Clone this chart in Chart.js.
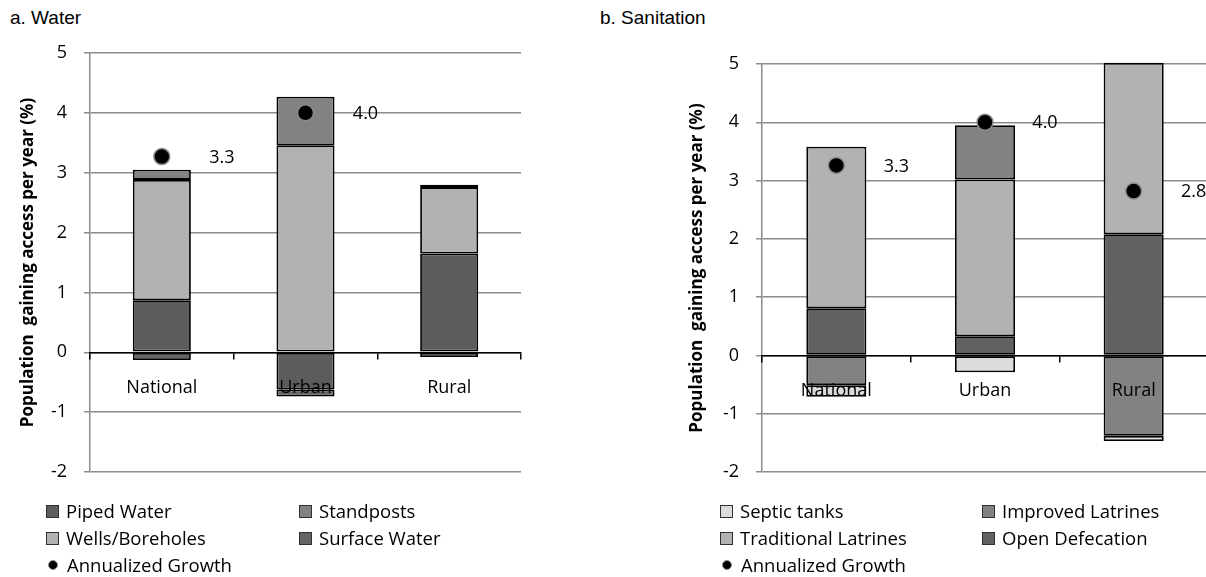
<!DOCTYPE html>
<html>
<head>
<meta charset="utf-8">
<script src="https://cdn.jsdelivr.net/npm/chart.js@4/dist/chart.umd.min.js"></script>
<style>
  html, body { margin: 0; padding: 0; background: #fff; overflow: hidden; }
  body { width: 1206px; height: 577px; position: relative; font-family: "Open Sans", sans-serif; }
  canvas { position: absolute; top: 0; }
  .panel-title { position: absolute; top: 8px; font-family: "Liberation Sans", Arial, sans-serif; font-size: 19px; line-height: 19px; color: #000; }
  .legend-item { position: absolute; height: 24px; line-height: 24px; display: flex; align-items: center; white-space: nowrap; font-size: 18.5px; color: #000; }
  .swatch { width: 11px; height: 11px; border: 1px solid #303030; }
  .dot { width: 8px; height: 8px; border-radius: 50%; background: #000; border: 1px solid #8c8c8c; margin-left: 2px; margin-right: 9px !important; }
</style>
</head>
<body>
<div class="panel-title" style="left:10px">a. Water</div>
<div class="panel-title" style="left:600px">b. Sanitation</div>
<canvas id="water" width="600" height="500" style="left:0"></canvas>
<canvas id="sanitation" width="620" height="500" style="left:600px"></canvas>
<div id="legends"></div>
<script>
// categories and y ticks
const categories = ['National', 'Urban', 'Rural'];
const yTicks = [-2, -1, 0, 1, 2, 3, 4, 5];

// a. Water (% of population gaining access per year)
const pipedWater = [0.87, -0.62, 1.65];
const wellsBoreholes = [2.01, 3.46, 1.11];
const standposts = [0.17, 0.81, -0.08];
const surfaceWater = [-0.13, -0.12, 0.04];
const waterGrowth = [3.27, 4.0, null];
const waterGrowthLabels = ['3.3', '4.0', ''];

// b. Sanitation
const openDefecation = [0.81, 0.33, 2.08];
const traditionalLatrines = [2.77, 2.69, 2.94];
const improvedLatrines = [-0.51, 0.93, -1.38];
const septicTanks = [-0.2, -0.29, -0.09];
const sanitationGrowth = [3.26, 4.0, 2.82];
const sanitationGrowthLabels = ['3.3', '4.0', '2.8'];

const FONT = '"Open Sans", sans-serif';
const GRID = '#8c8c8c';

const growthLabelPlugin = {
    id: 'growthLabels',
    afterDatasetsDraw(chart) {
        const ds = chart.data.datasets[0];
        const meta = chart.getDatasetMeta(0);
        const ctx = chart.ctx;
        ctx.save();
        ctx.font = '18px ' + FONT;
        ctx.fillStyle = '#000';
        ctx.textAlign = 'center';
        ctx.textBaseline = 'middle';
        meta.data.forEach((pt, i) => {
            if (ds.data[i] === null) return;
            ctx.fillText(ds.labels[i], pt.x + 60, pt.y + 1);
        });
        ctx.restore();
    }
};

function bar(label, data, color) {
    return {
        type: 'bar',
        label: label,
        data: data,
        backgroundColor: color,
        borderColor: '#000',
        borderWidth: 1.8,
        borderSkipped: false,
        barPercentage: 0.404,
        categoryPercentage: 1,
        clip: false
    };
}

function createChart(canvas, bars, growth, growthLabels, layout) {
    const datasets = [{
        type: 'line',
        label: 'Annualized Growth',
        data: growth,
        labels: growthLabels,
        showLine: false,
        pointRadius: 8,
        pointHoverRadius: 8,
        pointBackgroundColor: '#000',
        pointBorderColor: GRID,
        pointBorderWidth: 1.5
    }].concat(bars);

    return new Chart(canvas, {
        data: { labels: categories, datasets: datasets },
        options: {
            responsive: false,
            animation: false,
            devicePixelRatio: 1,
            layout: { padding: layout.padding },
            plugins: { legend: { display: false }, tooltip: { enabled: false } },
            scales: {
                x: {
                    type: 'category',
                    position: { y: 0 },
                    stacked: true,
                    offset: true,
                    grid: { offset: true, drawOnChartArea: false, drawTicks: true, tickLength: 6, color: '#000', lineWidth: 1.5, z: 1 },
                    border: { color: '#000', width: 1.5, z: 1 },
                    ticks: { padding: 19, color: '#000', font: { family: FONT, size: 18 }, maxRotation: 0, autoSkip: false, z: 1 }
                },
                y: {
                    stacked: true,
                    min: -2,
                    max: 5,
                    afterBuildTicks: s => { s.ticks = yTicks.map(v => ({ value: v })); },
                    afterFit: s => { s.width = layout.axisWidth; },
                    grid: { color: GRID, lineWidth: 1.5, tickLength: 6 },
                    border: { color: GRID, width: 1.5 },
                    ticks: { padding: 17, color: '#000', font: { family: FONT, size: 18 } },
                    title: {
                        display: true,
                        text: 'Population  gaining access per year (%)',
                        color: '#000',
                        font: { family: FONT, size: 17, weight: 'bold' },
                        padding: { top: layout.titleOffset, bottom: 0 }
                    }
                }
            }
        },
        plugins: [growthLabelPlugin]
    });
}

const waterBars = [
    bar('Piped Water', pipedWater, '#5c5c5c'),
    bar('Wells/Boreholes', wellsBoreholes, '#b2b2b2'),
    bar('Standposts', standposts, '#828282'),
    bar('Surface Water', surfaceWater, '#646464')
];
const sanitationBars = [
    bar('Open Defecation', openDefecation, '#616161'),
    bar('Traditional Latrines', traditionalLatrines, '#b2b2b2'),
    bar('Improved Latrines', improvedLatrines, '#828282'),
    bar('Septic tanks', septicTanks, '#dcdcdc')
];

createChart(document.getElementById('water'), waterBars, waterGrowth, waterGrowthLabels,
    { padding: { left: 0, top: 53, right: 79, bottom: 28 }, axisWidth: 90, titleOffset: 18 });
createChart(document.getElementById('sanitation'), sanitationBars, sanitationGrowth, sanitationGrowthLabels,
    { padding: { left: 69, top: 64, right: 12, bottom: 28 }, axisWidth: 93, titleOffset: 18 });

// legends in two columns, Excel order
const waterLegend = ['Piped Water', 'Standposts', 'Wells/Boreholes', 'Surface Water', 'Annualized Growth'];
const sanitationLegend = ['Septic tanks', 'Improved Latrines', 'Traditional Latrines', 'Open Defecation', 'Annualized Growth'];
const legendRows = [511, 538, 565];

function buildLegend(names, bars, cols) {
    const host = document.getElementById('legends');
    names.forEach((name, i) => {
        const item = document.createElement('div');
        item.className = 'legend-item';
        item.style.left = cols[i % 2] + 'px';
        item.style.top = (legendRows[Math.floor(i / 2)] - 12) + 'px';
        const mark = document.createElement('span');
        const found = bars.find(b => b.label === name);
        if (found) {
            mark.className = 'swatch';
            mark.style.background = found.backgroundColor;
        } else {
            mark.className = 'dot';
        }
        mark.style.marginRight = '7px';
        item.appendChild(mark);
        item.appendChild(document.createTextNode(name));
        host.appendChild(item);
    });
}
buildLegend(waterLegend, waterBars, [46, 299]);
buildLegend(sanitationLegend, sanitationBars, [720, 982]);
</script>
</body>
</html>
